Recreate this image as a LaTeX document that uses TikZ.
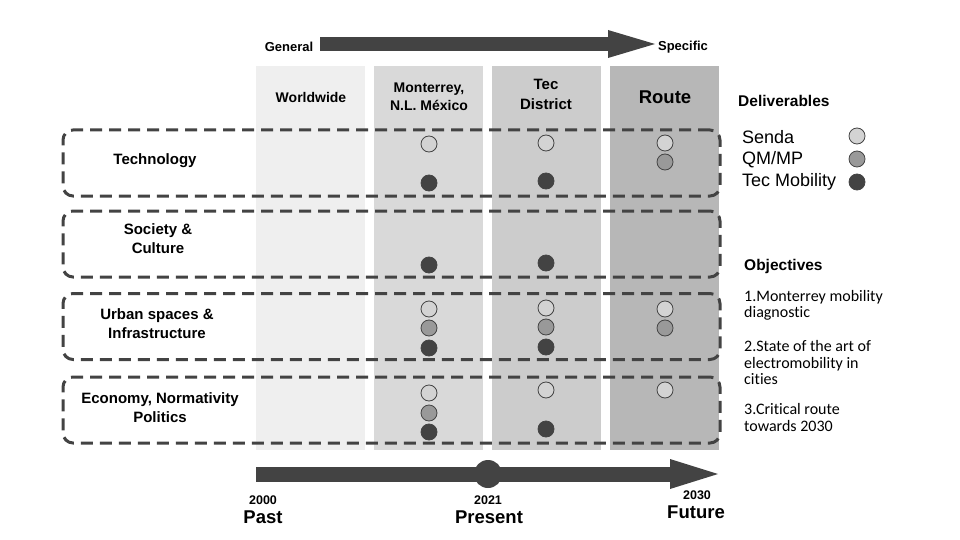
\documentclass[tikz,border=0pt]{standalone}
\usepackage{fontspec}
\setmainfont{Liberation Sans}
\newfontfamily\calfont[Ligatures=NoCommon]{Carlito}
\usepackage{xcolor}
\usetikzlibrary{arrows.meta}

\definecolor{darkgray}{HTML}{434343}
\definecolor{colA}{HTML}{EFEFEF}
\definecolor{colB}{HTML}{D9D9D9}
\definecolor{colC}{HTML}{CCCCCC}
\definecolor{colD}{HTML}{B7B7B7}
\definecolor{senda}{HTML}{D3D3D3}
\definecolor{qmmp}{HTML}{999999}

\begin{document}
\begin{tikzpicture}[x=1pt, y=-1pt,
        column/.style={fill=#1, minimum width=109pt, minimum height=384pt, inner sep=0pt},
        catbox/.style={draw=darkgray, line width=3pt, dash pattern=on 12pt off 7pt, rounded corners=10pt,
            minimum width=657pt, minimum height=66pt, inner sep=0pt},
        dot/.style={circle, fill=#1, draw=darkgray, line width=0.8pt, minimum size=16pt, inner sep=0pt},
        bigarrow/.style={darkgray, line width=#1, -{Triangle[length=47pt, width=28pt, line width=0pt]}},
        head/.style={font=\bfseries\fontsize{14}{18}\selectfont, align=center},
        cat/.style={font=\bfseries\fontsize{15}{19}\selectfont, align=center},
        year/.style={font=\bfseries\fontsize{12.5}{14}\selectfont},
        era/.style={font=\bfseries\fontsize{18.5}{20}\selectfont},
        key/.style={anchor=west, inner sep=0pt, font=\fontsize{18}{20}\selectfont},
        title/.style={anchor=west, inner sep=0pt, font=\bfseries\fontsize{15.5}{18}\selectfont},
        obj/.style={font=\calfont\fontsize{16}{16.5}\selectfont, align=left, anchor=west, inner sep=0pt}]
        \useasboundingbox (0, 0) rectangle (960, 540);

        % columns, general to specific
        \node (col world) [column=colA] at (310.5, 258) {};
        \node (col mty) [column=colB] at (428.5, 258) {};
        \node (col tec) [column=colC] at (546.5, 258) {};
        \node (col route) [column=colD] at (664.5, 258) {};
        \node [head] at (311, 97) {Worldwide};
        \node [head] at (429, 97) {Monterrey,\\N.L. México};
        \node [head, font=\bfseries\fontsize{15}{20}\selectfont] at (546, 94) {Tec\\District};
        \node [head, font=\bfseries\fontsize{18.5}{20}\selectfont] at (665, 97) {Route};

        % top arrow
        \node (general) [font=\bfseries\fontsize{13}{15}\selectfont] at (289, 47) {General};
        \node (specific) [font=\bfseries\fontsize{13}{15}\selectfont] at (683, 47) {Specific};
        \coordinate (gen tail) at (320, 44);
        \coordinate (spec tip) at (655, 44);
        \draw [bigarrow=14pt] (gen tail) -- (spec tip);

        % categories
        \node (box tech) [catbox] at (391.5, 163) {};
        \node (box soc) [catbox] at (391.5, 244) {};
        \node (box urban) [catbox] at (391.5, 326.5) {};
        \node (box eco) [catbox] at (391.5, 410) {};
        \node [cat] at (155, 161) {Technology};
        \node [cat] at (158, 239) {Society \&\\Culture};
        \node [cat] at (157, 324) {Urban spaces \&\\Infrastructure};
        \node [cat] at (160, 408) {Economy, Normativity\\Politics};

        % deliverables per column
        \node (t mty s) [dot=senda] at (429, 144) {};
        \node (t mty t) [dot=darkgray] at (429, 183) {};
        \node (t tec s) [dot=senda] at (546, 143) {};
        \node (t tec t) [dot=darkgray] at (546, 181) {};
        \node (t route s) [dot=senda] at (665, 143) {};
        \node (t route q) [dot=qmmp] at (665, 162) {};

        \node (s mty t) [dot=darkgray] at (429, 265) {};
        \node (s tec t) [dot=darkgray] at (546, 263) {};

        \node (u mty s) [dot=senda] at (429, 309) {};
        \node (u mty q) [dot=qmmp] at (429, 328) {};
        \node (u mty t) [dot=darkgray] at (429, 348) {};
        \node (u tec s) [dot=senda] at (546, 308) {};
        \node (u tec q) [dot=qmmp] at (546, 327) {};
        \node (u tec t) [dot=darkgray] at (546, 347) {};
        \node (u route s) [dot=senda] at (665, 309) {};
        \node (u route q) [dot=qmmp] at (665, 328) {};

        \node (e mty s) [dot=senda] at (429, 393) {};
        \node (e mty q) [dot=qmmp] at (429, 413) {};
        \node (e mty t) [dot=darkgray] at (429, 432) {};
        \node (e tec s) [dot=senda] at (546, 390) {};
        \node (e tec t) [dot=darkgray] at (546, 429) {};
        \node (e route s) [dot=senda] at (665, 390) {};

        % legend
        \node [title] at (738, 101) {Deliverables};
        \node [key] at (742, 137) {Senda};
        \node [key] at (742, 160) {QM/MP};
        \node [key] at (742, 182) {Tec Mobility};
        \node (key senda) [dot=senda] at (857, 136) {};
        \node (key qmmp) [dot=qmmp] at (857, 159) {};
        \node (key tec) [dot=darkgray] at (857, 182) {};

        % objectives
        \node [title] at (744, 266) {Objectives};
        \node [obj] at (744, 305.5) {1.Monterrey mobility\\diagnostic};
        \node [obj] at (744, 363) {2.State of the art of\\electromobility in\\cities};
        \node [obj] at (744, 417.5) {3.Critical route\\towards 2030};

        % timeline
        \coordinate (past end) at (256, 474);
        \coordinate (future tip) at (718, 474);
        \draw [bigarrow=15pt, -{Triangle[length=48pt, width=30pt, line width=0pt]}] (past end) -- (future tip);
        \node (now) [circle, fill=darkgray, minimum size=28pt, inner sep=0pt] at (488, 474) {};
        \node [year] at (263, 500) {2000};
        \node [era] at (263, 517) {Past};
        \node [year] at (488, 500) {2021};
        \node [era] at (489, 517) {Present};
        \node [year] at (697, 495) {2030};
        \node [era] at (696, 512) {Future};
    \end{tikzpicture}
\end{document}
